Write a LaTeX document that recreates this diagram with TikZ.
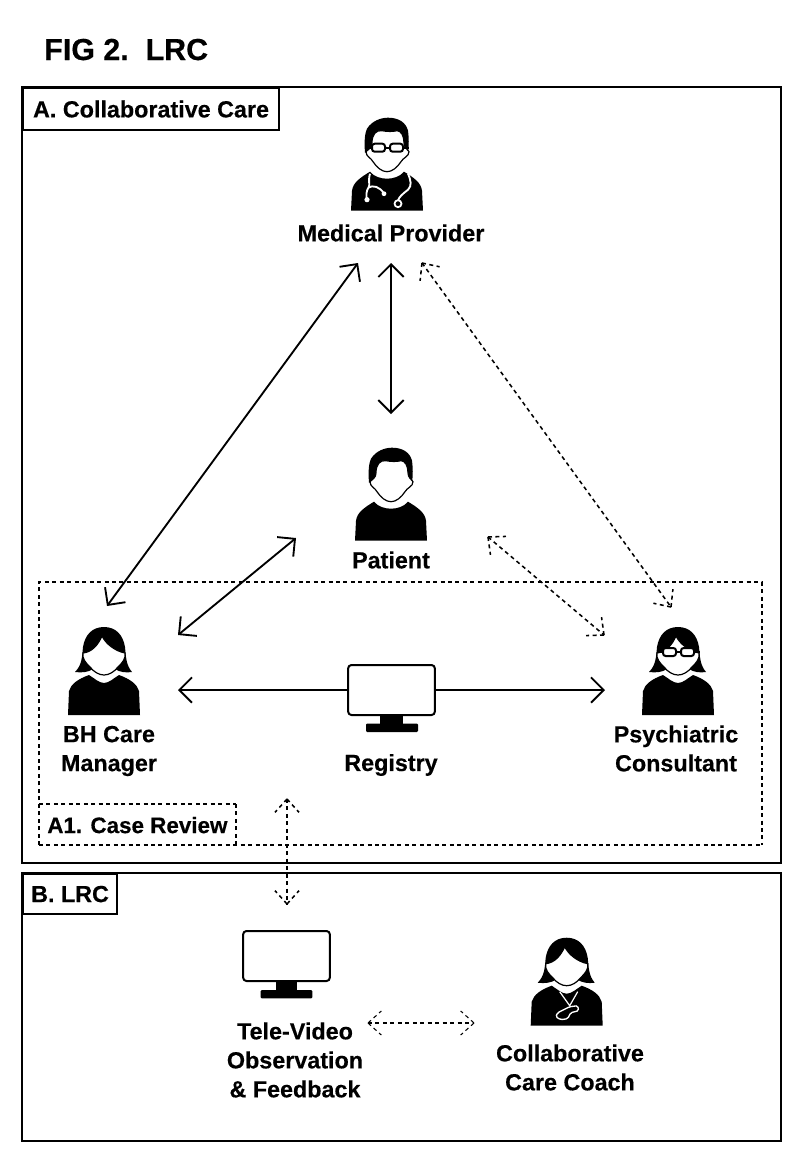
\documentclass[tikz,border=0pt]{standalone}
\usepackage{fontspec}
\setmainfont{Liberation Sans}[BoldFeatures={FakeBold=0.35}]
\usetikzlibrary{arrows.meta,calc}
\tikzset{
  tag/.style={draw,line width=1.6pt,fill=white,anchor=north west,inner sep=0pt,font=\fontsize{17.5pt}{21.75pt}\selectfont\bfseries},
  caption/.style={align=center,inner sep=0pt,font=\fontsize{17.5pt}{21.75pt}\selectfont\bfseries},
  solidlink/.style={<->,>={Straight Barb[length=9.5pt,width=19pt]},line width=1.4pt},
  dashlink/.style={line width=1.15pt,dash pattern=on 3pt off 2.6pt},
  screen/.style={draw,fill=white,line width=1.5pt,rounded corners=2.5pt,inner sep=0pt,minimum width=65pt,minimum height=37.5pt},
  manicon/.pic={
    \fill (-36,0) -- (-35,-20) .. controls (-34,-28) and (-27,-33) .. (-17,-39) .. controls (-13,-34) and (-6,-32) .. (0,-32)
      .. controls (6,-32) and (13,-34) .. (17,-39) .. controls (27,-33) and (34,-28) .. (35,-20) -- (36,0) -- cycle;
    \fill (-22,-58) .. controls (-23,-70) and (-22,-78) .. (-20,-82) .. controls (-15,-90) and (-6,-93) .. (1,-93)
      .. controls (12,-93) and (19,-88) .. (21,-80) .. controls (22,-72) and (22,-66) .. (21,-58) -- cycle;
    \draw[fill=white,line width=0.9pt] (-21,-59) .. controls (-18,-62) and (-15,-63) .. (-15,-68) .. controls (-15,-76) and (-11,-81) .. (-5,-80)
      .. controls (0,-79) and (6,-79) .. (10,-80) .. controls (14,-80) and (17,-75) .. (17,-68) .. controls (17,-63) and (20,-62) .. (22,-59)
      .. controls (22,-54) and (16,-53) .. (14,-49) .. controls (10,-43) and (5,-39) .. (0,-39) .. controls (-5,-39) and (-10,-43) .. (-14,-49)
      .. controls (-16,-53) and (-21,-54) .. (-21,-59) -- cycle;
  },
  womanicon/.pic={
    \fill (-36,0) -- (-35,-24) .. controls (-33,-31) and (-26,-36) .. (-15,-40) .. controls (-10,-37) and (-5,-32) .. (0,-32)
      .. controls (5,-32) and (10,-37) .. (15,-40) .. controls (26,-36) and (33,-31) .. (35,-24) -- (36,0) -- cycle;
    \fill (0,-88) .. controls (-12,-88) and (-19,-80) .. (-21,-68) .. controls (-22,-58) and (-22,-50) .. (-29,-43)
      .. controls (-22,-42) and (-15,-43) .. (-11,-46) -- (11,-46) .. controls (15,-43) and (22,-42) .. (28,-43)
      .. controls (22,-50) and (22,-58) .. (21,-68) .. controls (19,-80) and (12,-88) .. (0,-88) -- cycle;
    \draw[fill=white,line width=0.9pt] (-21,-62) .. controls (-12,-63) and (-6,-70) .. (-2,-79) .. controls (2,-71) and (11,-64) .. (21,-62)
      .. controls (22,-56) and (18,-52) .. (14,-48) .. controls (10,-43) and (5,-40) .. (0,-40) .. controls (-5,-40) and (-10,-43) .. (-14,-48)
      .. controls (-18,-52) and (-22,-56) .. (-21,-62) -- cycle;
  },
  glassicon/.pic={
    \draw[line width=1.2pt] (-21,-63) -- (22,-63);
    \draw[fill=white,line width=1.5pt,rounded corners=2pt] (-15,-67) rectangle (-2,-59);
    \draw[fill=white,line width=1.5pt,rounded corners=2pt] (3,-67) rectangle (16,-59);
  },
  stethicon/.pic={
    \draw[white,line width=1.4pt] (-17,-37) .. controls (-19,-30) and (-17,-26) .. (-18,-24) .. controls (-21,-20) and (-21,-15) .. (-20,-11);
    \draw[white,line width=1.4pt] (-19,-23) .. controls (-14,-26) and (-7,-24) .. (-3,-17);
    \draw[white,line width=1.4pt] (21,-37) .. controls (24,-30) and (25,-25) .. (21,-21) .. controls (16,-17) and (12,-14) .. (11,-10);
    \fill[white] (-20,-11) circle (2.6);
    \fill[white] (-3,-17) circle (2.4);
    \draw[white,line width=1.3pt] (11,-7) circle (3.5);
  },
  whistleicon/.pic={
    \draw[white,line width=0.9pt] (-7,-34) -- (3,-20) -- (11,-34);
    \draw[white,line width=1pt,rounded corners=1.2pt] (-11,-9) -- (-9,-13) -- (3,-19) -- (11,-20) -- (12,-15) -- (4,-13) -- (1,-7) -- (-6,-6) -- cycle;
  }
}
\newcommand{\dashtip}[2]{
  \draw[dashlink] (#1) -- ($(#1)!13.5pt!42:(#2)$);
  \draw[dashlink] (#1) -- ($(#1)!13.5pt!-42:(#2)$);
}
\newcommand{\dashboth}[2]{
  \draw[dashlink] (#1) -- (#2);
  \dashtip{#1}{#2}
  \dashtip{#2}{#1}
}
\begin{document}
\begin{tikzpicture}[x=0.75pt,y=-0.75pt]
  \useasboundingbox (0,0) rectangle (804,1167);
  \node[anchor=base west,inner sep=0pt,font=\fontsize{22.8pt}{26pt}\selectfont\bfseries] (title) at (44,60) {FIG 2.\ \ LRC};

  % frames
  \draw[line width=1.6pt] (22,87) rectangle (781,863);
  \draw[line width=1.6pt] (22,873) rectangle (781,1141);
  \draw[dashlink] (39,845) -- (39,582) -- (762,582) -- (762,845);
  \draw[dashlink,line width=0.8pt] (39,845) -- (762,845);
  \node[tag,minimum width=192pt,minimum height=31.5pt] (tagA) at (22,87) {A. Collaborative Care};
  \node[tag,minimum width=70.5pt,minimum height=30pt] (tagB) at (22,873) {B. LRC};
  \node[tag,draw=none,fill=none,minimum width=147.5pt,minimum height=30pt,font=\fontsize{16.8pt}{20pt}\selectfont\bfseries] (tagA1) at (38,804) {A1. Case Review};
  \draw[dashlink,line width=0.8pt] (39,804) -- (236,804);
  \draw[dashlink] (236,804) -- (236,845);

  % people
  \pic at (387,210.7) {manicon};
  \pic at (387,210.7) {glassicon};
  \pic at (387,210.7) {stethicon};
  \pic at (391,540.7) {manicon};
  \pic at (104,715) {womanicon};
  \pic at (678,715) {womanicon};
  \pic at (678,715) {glassicon};
  \pic at (566.7,1025.7) {womanicon};
  \pic at (566.7,1025.7) {whistleicon};

  % screens
  \node[screen] (registry) at (391.5,690) {};
  \fill (380,716) rectangle (403,724);
  \fill[rounded corners=0.8pt] (366,723.5) rectangle (418,732);
  \node[screen] (televideo) at (286.5,956) {};
  \fill (276,982) rectangle (297,990);
  \fill[rounded corners=0.8pt] (260.7,990) rectangle (312.3,998.3);

  % labels
  \node[caption] (provider) at (391,233) {Medical Provider};
  \node[caption] (patient) at (391,560) {Patient};
  \node[caption] (manager) at (109,751) {BH Care\\Manager};
  \node[caption] (regname) at (391,765) {Registry};
  \node[caption] (consultant) at (676,748.5) {Psychiatric\\Consultant};
  \node[caption] (obs) at (295,1060) {Tele-Video\\Observation\\\& Feedback};
  \node[caption] (coach) at (570,1067.5) {Collaborative\\Care Coach};

  % free ends of the links
  \coordinate (provL) at (358,263);
  \coordinate (provM) at (391,263);
  \coordinate (provR) at (422,263);
  \coordinate (patT) at (391,414);
  \coordinate (patL) at (296,538);
  \coordinate (patR) at (488,537);
  \coordinate (manT) at (107,606);
  \coordinate (manR) at (178,635);
  \coordinate (manE) at (178,690);
  \coordinate (conT) at (671,607);
  \coordinate (conL) at (604,635);
  \coordinate (conE) at (605,690);
  \coordinate (caseB) at (287,799);
  \coordinate (lrcT) at (287,904);
  \coordinate (teleE) at (368,1023);
  \coordinate (coachW) at (474,1023);

  \draw[solidlink] (provL) to (manT);
  \draw[solidlink] (provM) to (patT);
  \draw[solidlink] (patL) to (manR);
  \draw[solidlink,<-] (manE) to (registry.west);
  \draw[solidlink,->] (registry.east) to (conE);
  \dashboth{provR}{conT}
  \dashboth{patR}{conL}
  \dashboth{caseB}{lrcT}
  \begin{scope}[dashlink/.append style={line width=0.8pt}]
    \dashboth{teleE}{coachW}
  \end{scope}
\end{tikzpicture}
\end{document}
